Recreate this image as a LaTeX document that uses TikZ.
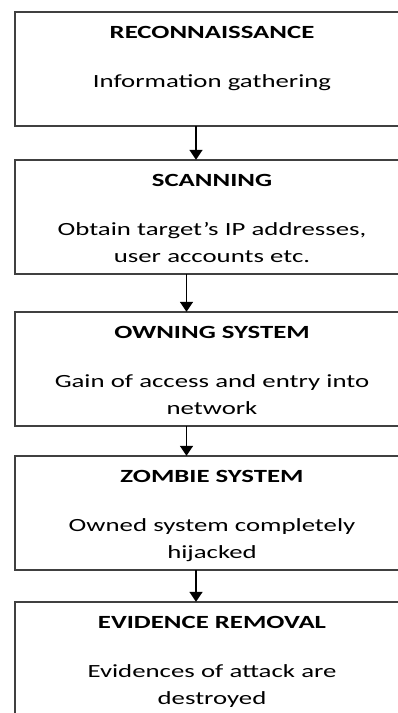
\documentclass[tikz,border=0pt]{standalone}
\usepackage{fontspec}
\setmainfont{Carlito}[FakeStretch=1.44]
\usetikzlibrary{arrows.meta,positioning}
\begin{document}
\begin{tikzpicture}[x=1pt, y=-1pt,
   stage/.style={minimum width=394pt, minimum height=114pt, inner sep=0pt},
   frame/.style={draw=black!75, line width=1.5pt},
   title/.style={font=\fontsize{18.6}{22}\selectfont\bfseries, anchor=base, inner sep=0pt},
   body/.style={font=\fontsize{18.6}{27}\selectfont, text width=380pt, align=center, inner sep=0pt},
   flow/.style={-{Triangle[width=13pt,length=10pt]}, line width=1.7pt}]

   \useasboundingbox (0,0) rectangle (398,713);
   \clip (0,0) rectangle (398,713);

   % the five stages, cut off at the right side of the page
   \node[stage] (recon) at (212,69) {};
   \node[stage] (scan) at (212,217) {};
   \node[stage] (own) at (212,369) {};
   \node[stage] (zombie) at (212,513) {};
   \node[stage] (evid) at (212,659) {};

   \foreach \s in {recon,scan,own,zombie,evid}
      \draw[frame] (\s.north east) -- (\s.north west) -- (\s.south west) -- (\s.south east);

   \node[title] (recon-t) at ([yshift=-27pt]recon.north) {RECONNAISSANCE};
   \node[body, below=48.7pt of recon-t.base, anchor=base] (recon-b) {Information gathering};

   \node[title] (scan-t) at ([yshift=-27pt]scan.north) {SCANNING};
   \node[body, below=48.7pt of scan-t.base, anchor=base] (scan-b) {Obtain target's IP addresses,\\ user accounts etc.};

   \node[title] (own-t) at ([yshift=-27pt]own.north) {OWNING SYSTEM};
   \node[body, below=48.7pt of own-t.base, anchor=base] (own-b) {Gain of access and entry into\\ network};

   \node[title] (zombie-t) at ([yshift=-27pt]zombie.north) {ZOMBIE SYSTEM};
   \node[body, below=48.7pt of zombie-t.base, anchor=base] (zombie-b) {Owned system completely\\ hijacked};

   \node[title] (evid-t) at ([yshift=-27pt]evid.north) {EVIDENCE REMOVAL};
   \node[body, below=48.7pt of evid-t.base, anchor=base] (evid-b) {Evidences of attack are\\ destroyed};

   % arrows
   \draw[flow] ([xshift=-16pt]recon.south) -- ([xshift=-16pt]scan.north);
   \draw[flow] ([xshift=-25.5pt]scan.south) -- ([xshift=-25.5pt]own.north);
   \draw[flow] ([xshift=-25.5pt]own.south) -- ([xshift=-25.5pt]zombie.north);
   \draw[flow] ([xshift=-16pt]zombie.south) -- ([xshift=-16pt]evid.north);

\end{tikzpicture}
\end{document}
